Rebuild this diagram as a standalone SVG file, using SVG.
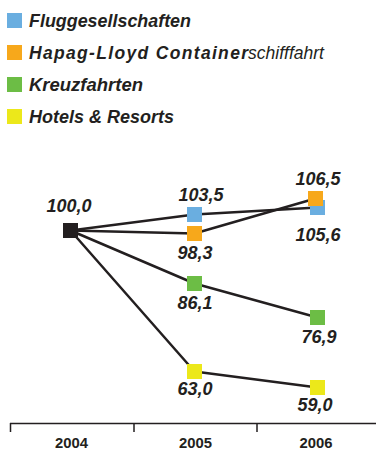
<svg xmlns="http://www.w3.org/2000/svg" width="376" height="451" viewBox="0 0 376 451">
<style>
.lg{font-family:"Liberation Sans",Arial,sans-serif;font-weight:bold;font-style:italic;font-size:17.5px;fill:#231f20}
.lt{font-family:"Liberation Sans",Arial,sans-serif;font-style:italic;font-size:19px;fill:#231f20}
.v{font-family:"Liberation Sans",Arial,sans-serif;font-weight:bold;font-style:italic;font-size:18px;fill:#231f20;text-anchor:middle}
.ax{font-family:"Liberation Sans",Arial,sans-serif;font-weight:bold;font-size:14px;fill:#231f20;text-anchor:middle}
.ln{fill:none;stroke:#231f20;stroke-width:2.5;stroke-linejoin:round}
.b{fill:#6aaee0}.o{fill:#f7a81b}.g{fill:#6cbd45}.y{fill:#ece81a}.k{fill:#231f20}
</style>
<g id="legend">
<rect class="b" x="7" y="13" width="15" height="15"/>
<text class="lg" x="29" y="27" textLength="162" lengthAdjust="spacingAndGlyphs">Fluggesellschaften</text>
<rect class="o" x="7" y="45" width="15" height="15"/>
<text class="lg" x="29" y="59" textLength="219" lengthAdjust="spacing">Hapag-Lloyd Container</text>
<text class="lt" x="248" y="59" textLength="76" lengthAdjust="spacingAndGlyphs">schifffahrt</text>
<rect class="g" x="7" y="77" width="15" height="15"/>
<text class="lg" x="29" y="91" textLength="114" lengthAdjust="spacingAndGlyphs">Kreuzfahrten</text>
<rect class="y" x="7" y="109" width="15" height="15"/>
<text class="lg" x="29" y="123" textLength="145" lengthAdjust="spacingAndGlyphs">Hotels &amp; Resorts</text>
</g>
<g id="connectors">
<polyline class="ln" points="70.5,230.5 194.5,214.5 317.5,207.5"/>
<polyline class="ln" points="70.5,230.5 194.5,233.5 315.5,198.5"/>
<polyline class="ln" points="70.5,230.5 194.5,283.5 317.5,317.5"/>
<polyline class="ln" points="70.5,230.5 194.5,371.5 317.5,387.5"/>
</g>
<g id="n2004"><rect class="k" x="63" y="223" width="15" height="15"/><text class="v" x="69" y="212">100,0</text></g>
<g id="b2005"><rect class="b" x="187" y="207" width="15" height="15"/><text class="v" x="201" y="201">103,5</text></g>
<g id="o2005"><rect class="o" x="187" y="226" width="15" height="15"/><text class="v" x="195" y="259">98,3</text></g>
<g id="g2005"><rect class="g" x="187" y="276" width="15" height="15"/><text class="v" x="195" y="309">86,1</text></g>
<g id="y2005"><rect class="y" x="187" y="364" width="15" height="15"/><text class="v" x="195" y="395">63,0</text></g>
<g id="b2006"><rect class="b" x="310" y="200" width="15" height="15"/><text class="v" x="318" y="241">105,6</text></g>
<g id="o2006"><rect class="o" x="308" y="191" width="15" height="15"/><text class="v" x="318" y="185">106,5</text></g>
<g id="g2006"><rect class="g" x="310" y="310" width="15" height="15"/><text class="v" x="319" y="343">76,9</text></g>
<g id="y2006"><rect class="y" x="310" y="380" width="15" height="15"/><text class="v" x="315" y="411">59,0</text></g>
<g id="axis">
<path d="M10,423.5H376M10.5,423V432M134,423V432M257,423V432" fill="none" stroke="#231f20" stroke-width="1.5"/>
<text class="ax" x="71.5" y="448" textLength="33" lengthAdjust="spacingAndGlyphs">2004</text>
<text class="ax" x="195.5" y="448" textLength="33" lengthAdjust="spacingAndGlyphs">2005</text>
<text class="ax" x="316" y="448" textLength="33" lengthAdjust="spacingAndGlyphs">2006</text>
</g>
</svg>
